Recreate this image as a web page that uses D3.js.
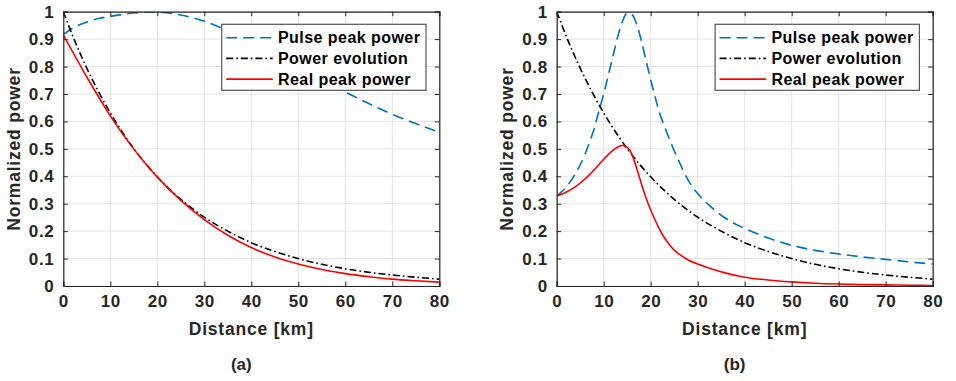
<!DOCTYPE html>
<html>
<head>
    <script src="https://d3js.org/d3.v7.min.js" charset="utf-8"></script>
    <style>
        body { margin: 0; background: #fff; }
        text { font-family: "Liberation Sans", Arial, sans-serif; font-weight: bold; fill: #262626; }
    </style>
</head>
<body>
    <script>
        // values
        var distA = [0, 2.5, 5, 7.5, 10, 15, 20, 25, 30, 35, 40, 45, 50, 55, 60, 65, 70, 75, 80];
        var pulseA = [0.917, 0.945, 0.962, 0.975, 0.983, 0.995, 0.999, 0.988, 0.965, 0.93, 0.885, 0.84, 0.795, 0.75, 0.707, 0.665, 0.626, 0.592, 0.56];
        var evolA = [1, 0.891, 0.794, 0.708, 0.631, 0.501, 0.398, 0.316, 0.251, 0.2, 0.158, 0.126, 0.1, 0.079, 0.063, 0.05, 0.04, 0.032, 0.025];
        var realA = [0.915, 0.838, 0.762, 0.69, 0.62, 0.499, 0.397, 0.312, 0.242, 0.185, 0.14, 0.106, 0.08, 0.06, 0.045, 0.034, 0.025, 0.019, 0.014];

        var distB = [0, 2, 4, 6, 7, 8, 9, 10, 11, 12, 13, 14, 15, 16, 17, 18, 19, 20, 21, 22, 23, 24, 25, 26, 27, 28, 30, 33, 36, 40, 45, 50, 55, 60, 65, 70, 75, 80];
        var pulseB = [0.328, 0.36, 0.41, 0.48, 0.525, 0.575, 0.64, 0.70, 0.77, 0.84, 0.91, 0.965, 0.995, 0.99, 0.955, 0.895, 0.822, 0.752, 0.685, 0.625, 0.578, 0.535, 0.493, 0.455, 0.418, 0.385, 0.337, 0.286, 0.246, 0.21, 0.175, 0.148, 0.13, 0.117, 0.106, 0.097, 0.088, 0.08];
        var realB = [0.328, 0.342, 0.362, 0.39, 0.406, 0.424, 0.443, 0.462, 0.48, 0.495, 0.507, 0.512, 0.505, 0.48, 0.43, 0.373, 0.322, 0.277, 0.238, 0.203, 0.174, 0.15, 0.131, 0.117, 0.105, 0.095, 0.08, 0.062, 0.047, 0.032, 0.022, 0.015, 0.01, 0.007, 0.005, 0.004, 0.003, 0.002];
        var evolDistB = [0, 2.5, 5, 7.5, 10, 15, 20, 25, 30, 35, 40, 45, 50, 55, 60, 65, 70, 75, 80];
        var evolB = [1, 0.891, 0.794, 0.708, 0.631, 0.501, 0.398, 0.316, 0.251, 0.2, 0.158, 0.126, 0.1, 0.079, 0.063, 0.05, 0.04, 0.032, 0.025];

        var xTicks = [0, 10, 20, 30, 40, 50, 60, 70, 80];
        var yTicks = [0, 0.1, 0.2, 0.3, 0.4, 0.5, 0.6, 0.7, 0.8, 0.9, 1];
        var legendNames = ["Pulse peak power", "Power evolution", "Real peak power"];
        var captions = ["(a)", "(b)"];

        var svg = d3.select("body")
            .append("svg")
            .attr("width", 956)
            .attr("height", 381);

        function panel(left, caption, series, id) {
            var w = 376, top = 11.7, bottom = 286;
            var x = d3.scaleLinear().domain([0, 80]).range([left, left + w]);
            var y = d3.scaleLinear().domain([0, 1]).range([bottom, top]);
            var g = svg.append("g");

            // grid
            g.selectAll(".gx").data(xTicks).enter().append("line")
                .attr("x1", d => x(d)).attr("x2", d => x(d))
                .attr("y1", top).attr("y2", bottom)
                .style("stroke", "#e3e3e3").style("stroke-width", 1);
            g.selectAll(".gy").data(yTicks).enter().append("line")
                .attr("x1", left).attr("x2", left + w)
                .attr("y1", d => y(d)).attr("y2", d => y(d))
                .style("stroke", "#e3e3e3").style("stroke-width", 1);

            svg.append("clipPath").attr("id", id)
                .append("rect").attr("x", left).attr("y", top)
                .attr("width", w).attr("height", bottom - top);

            var line = d3.line()
                .x(d => x(d[0])).y(d => y(d[1]))
                .curve(d3.curveMonotoneX);
            series.forEach(function (s) {
                g.append("path")
                    .datum(s.d)
                    .attr("d", line)
                    .attr("clip-path", "url(#" + id + ")")
                    .style("fill", "none")
                    .style("stroke", s.color)
                    .style("stroke-width", 1.6)
                    .style("stroke-dasharray", s.dash);
            });

            // box with inward ticks on all sides
            var axB = d3.axisBottom(x).tickValues(xTicks).tickSize(-4.5).tickPadding(9).tickFormat(d3.format("d"));
            var axT = d3.axisTop(x).tickValues(xTicks).tickSize(-4.5).tickFormat("");
            var axL = d3.axisLeft(y).tickValues(yTicks).tickSize(-4.5).tickPadding(9).tickFormat(d => d === 0 || d === 1 ? d : d.toFixed(1));
            var axR = d3.axisRight(y).tickValues(yTicks).tickSize(-4.5).tickFormat("");
            [[axB, "translate(0," + bottom + ")"], [axT, "translate(0," + top + ")"],
             [axL, "translate(" + left + ",0)"], [axR, "translate(" + (left + w) + ",0)"]].forEach(function (a) {
                var ga = g.append("g").attr("transform", a[1]).call(a[0]);
                ga.select(".domain").style("stroke", "#262626").style("stroke-width", 1.2);
                ga.selectAll(".tick line").style("stroke", "#262626").style("stroke-width", 1);
                ga.selectAll("text").style("font-size", "17px").style("letter-spacing", "0.6px")
                    .style("font-family", "'Liberation Sans', Arial, sans-serif").style("fill", "#262626");
            });

            g.append("text")
                .attr("x", left + w / 2).attr("y", 335)
                .attr("text-anchor", "middle")
                .style("font-size", "17.5px").style("letter-spacing", "0.8px")
                .text("Distance [km]");
            g.append("text")
                .attr("transform", "translate(" + (left - 43.5) + "," + 149 + ") rotate(-90)")
                .attr("text-anchor", "middle")
                .style("font-size", "17.5px").style("letter-spacing", "0.8px")
                .text("Normalized power");
            g.append("text")
                .attr("x", left + 178).attr("y", 370)
                .attr("text-anchor", "middle")
                .style("font-size", "17px")
                .text(caption);

            // legend
            var lx = left + 158.4, ly = 24.3;
            var lg = g.append("g").attr("transform", "translate(" + lx + "," + ly + ")");
            lg.append("rect").attr("width", 204.3).attr("height", 66)
                .style("fill", "#fff").style("stroke", "#555").style("stroke-width", 1.2);
            series.forEach(function (s, i) {
                var yy = 13.4 + i * 20.7;
                lg.append("line").attr("x1", 4.5).attr("x2", 51).attr("y1", yy).attr("y2", yy)
                    .style("stroke", s.color).style("stroke-width", 1.6)
                    .style("stroke-dasharray", s.dash);
                lg.append("text").attr("x", 56.3).attr("y", yy + 5.8)
                    .style("font-size", "16px").style("letter-spacing", "0.45px")
                    .style("fill", "#000")
                    .text(legendNames[i]);
            });
        }

        function zip(a, b) { return a.map(function (v, i) { return [v, b[i]]; }); }

        panel(63.3, captions[0], [
            { d: zip(distA, pulseA), color: "#0072BD", dash: "11,6" },
            { d: zip(distA, evolA), color: "#000000", dash: "7,3,1.6,3" },
            { d: zip(distA, realA), color: "#FF0000", dash: null }
        ], "clipA");

        panel(556.7, captions[1], [
            { d: zip(distB, pulseB), color: "#0072BD", dash: "11,6" },
            { d: zip(evolDistB, evolB), color: "#000000", dash: "7,3,1.6,3" },
            { d: zip(distB, realB), color: "#FF0000", dash: null }
        ], "clipB");
    </script>
</body>
</html>
